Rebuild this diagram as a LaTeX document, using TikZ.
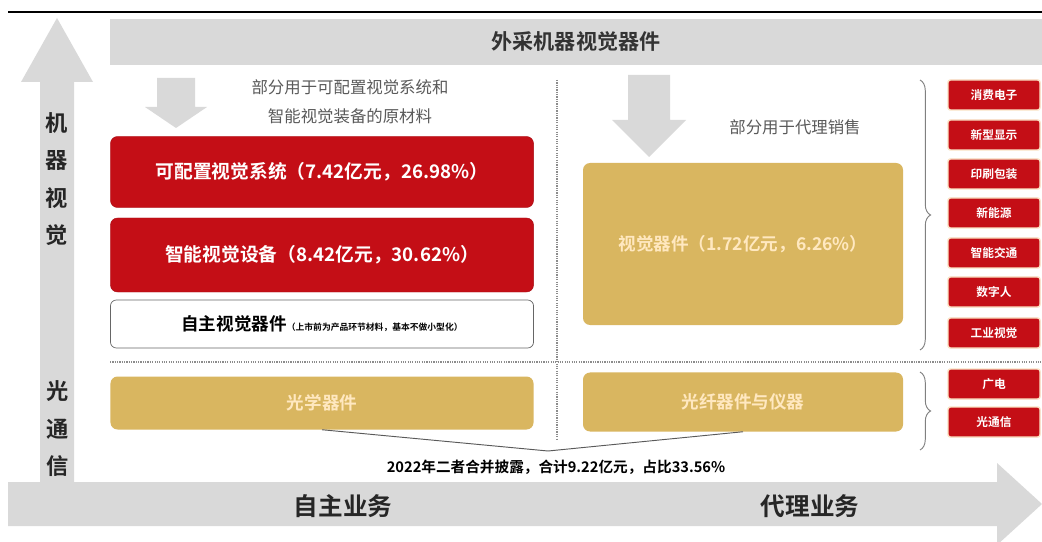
\documentclass[tikz,border=0pt]{standalone}
\usepackage{fontspec}
\newfontfamily\cjk{Noto Sans CJK SC}[BoldFont={Noto Sans CJK SC Bold}]
\usetikzlibrary{decorations.pathreplacing}
\definecolor{boxred}{RGB}{196,14,22}
\definecolor{boxgold}{RGB}{217,182,96}
\definecolor{goldtext}{RGB}{255,232,192}
\definecolor{arrowgray}{RGB}{217,217,217}
\definecolor{notegray}{RGB}{90,90,90}
\definecolor{tagedge}{RGB}{250,226,196}
\tikzset{
	redbox/.style={draw=boxred!85!black,fill=boxred,rounded corners=6pt,text=white,font=\cjk\bfseries\fontsize{16}{19}\selectfont},
	goldbox/.style={fill=boxgold,rounded corners=6pt,text=goldtext,font=\cjk\bfseries\fontsize{15}{18}\selectfont},
	ownbox/.style={draw=black!60,line width=0.6pt,fill=white,rounded corners=5pt,font=\cjk\bfseries\fontsize{15}{18}\selectfont},
	tagbox/.style={draw=tagedge,line width=1.2pt,fill=boxred,rounded corners=2pt,minimum width=2.76cm,minimum height=0.9cm,text=white,font=\cjk\bfseries\fontsize{10}{12}\selectfont},
	sepline/.style={densely dotted,line width=1pt,black!45},
	note/.style={text=notegray,align=center,font=\cjk\fontsize{14}{25}\selectfont},
	sidelabel/.style={text=black!85,align=center,font=\cjk\bfseries\fontsize{19}{32}\selectfont},
	bracket/.style={decorate,decoration={brace,amplitude=9pt},black!50,line width=0.8pt}
}
\begin{document}
\begin{tikzpicture}[x=0.03cm,y=-0.03cm]
	\fill[white] (0,0) rectangle (1042,542);
	\useasboundingbox (0,0) rectangle (1042,542);
	\draw[line width=2.5pt] (8,12) -- (1042,12);
	\fill[arrowgray] (40,490) -- (40,82) -- (21,82) -- (57,18) -- (93,82) -- (74,82) -- (74,490) -- cycle;
	\fill[arrowgray] (8,482) -- (997,482) -- (997,463) -- (1042,504) -- (997,545) -- (997,526) -- (8,526) -- cycle;
	\node[fill=arrowgray,minimum width=27.96cm,minimum height=1.38cm,font=\cjk\bfseries\fontsize{18}{21}\selectfont,text=black!80] (head) at (576,42) {外采机器视觉器件};
	\fill[arrowgray] (157,78) -- (195,78) -- (195,107) -- (207,107) -- (176,128) -- (145,107) -- (157,107) -- cycle;
	\fill[arrowgray] (628,75) -- (670,75) -- (670,120) -- (686,120) -- (649,157) -- (612,120) -- (628,120) -- cycle;
	\node[note] (rawnote) at (350,102) {部分用于可配置视觉系统和\\智能视觉装备的原材料};
	\node[note] (agentnote) at (795,127) {部分用于代理销售};
	\node[sidelabel] (vision) at (57,179) {机\\器\\视\\觉};
	\node[sidelabel] (optic) at (58,429) {光\\通\\信};
	\draw[sepline] (110,362) -- (1042,362);
	\draw[sepline] (557,80) -- (557,440);
	\node[redbox,minimum width=12.69cm,minimum height=2.13cm] (system) at (322,172) {可配置视觉系统（7.42亿元，26.98\%）};
	\node[redbox,minimum width=12.69cm,minimum height=2.22cm] (device) at (322,255) {智能视觉设备（8.42亿元，30.62\%）};
	\node[ownbox,minimum width=12.69cm,minimum height=1.44cm] (own) at (322,324) {自主视觉器件{\fontsize{7.5}{9}\selectfont（上市前为产品环节材料，基本不做小型化）}};
	\node[goldbox,minimum width=9.6cm,minimum height=4.86cm] (parts) at (743,244) {视觉器件（1.72亿元，6.26\%）};
	\node[goldbox,minimum width=12.69cm,minimum height=1.59cm] (optparts) at (322,403) {光学器件};
	\node[goldbox,minimum width=9.6cm,minimum height=1.77cm] (fiber) at (743,402) {光纤器件与仪器};
	\coordinate (merge) at (548,451);
	\draw[notegray,line width=0.8pt] (optparts.south) -- (merge);
	\draw[notegray,line width=0.8pt] (fiber.south) -- (merge);
	\node[font=\cjk\bfseries\fontsize{12.5}{15}\selectfont] (total) at (556,467) {2022年二者合并披露，合计9.22亿元，占比33.56\%};
	\node[font=\cjk\bfseries\fontsize{21}{24}\selectfont,text=black!85] (selfbiz) at (343,506) {自主业务};
	\node[font=\cjk\bfseries\fontsize{21}{24}\selectfont,text=black!85] (agentbiz) at (810,506) {代理业务};
	\draw[bracket] (920,80) -- (920,350);
	\draw[bracket] (920,372) -- (920,450);
	\foreach \tagtext/\ypos [count=\i] in {消费电子/95,新型显示/135,印刷包装/174,新能源/213,智能交通/253,数字人/292,工业视觉/333,广电/384,光通信/422}
		\node[tagbox] (tag\i) at (994,\ypos) {\tagtext};
\end{tikzpicture}
\end{document}
